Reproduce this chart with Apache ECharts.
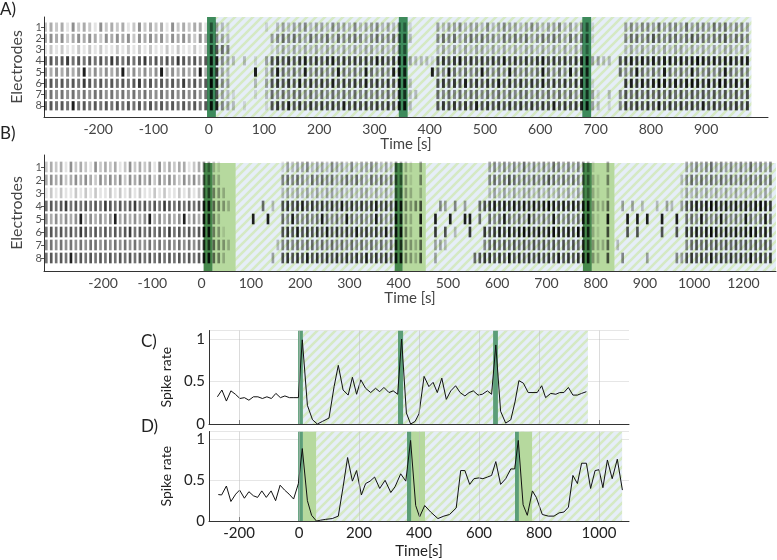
<!DOCTYPE html>
<html><head><meta charset="utf-8">
<script src="https://cdn.jsdelivr.net/npm/echarts@6/dist/echarts.min.js"></script>
<style>html,body{margin:0;padding:0;background:#fff}#c{width:777px;height:560px}</style>
</head><body><div id="c"></div>
<script>
// ---------------- DATA ----------------
const BIN = 10; // seconds per raster bin
const electrodes = [1, 2, 3, 4, 5, 6, 7, 8];

// Panel A raster: one digit per 10 s bin (0 = no spikes, 9 = densest), starting at -300 s
const aStart = -300;
const aRaster = [
  '2323142321'+'4232312423'+'2314232331'+'43'+'210'+'00000'+'1023233423'+'3243324233'+'4232'+'43'+'10000'+'3233423324'+'2343323432'+'334232'+'44'+'10000'+'0343443534'+'4353443545'+'3443',
  '3434234343'+'2434342434'+'3424343243'+'54'+'320'+'00000'+'0345454354'+'4535445434'+'5445'+'55'+'20000'+'4545345454'+'4354545345'+'454354'+'55'+'10000'+'0455456545'+'5456554556'+'4554',
  '1212112121'+'2112121212'+'1121211212'+'66'+'540'+'00000'+'0123232323'+'2332323233'+'2323'+'44'+'00000'+'2323232332'+'3232323323'+'232323'+'33'+'00000'+'0232323232'+'3323232323'+'3232',
  '5656756565'+'6576565675'+'6565765656'+'88'+'432'+'02010'+'3676767867'+'6786767676'+'8767'+'88'+'32221'+'6767867676'+'7686767678'+'676767'+'88'+'33220'+'6787878788'+'7878987878'+'8788',
  '4343434834'+'3434834343'+'4834343483'+'87'+'320'+'00080'+'2585454845'+'5458545485'+'4548'+'87'+'00008'+'5485454585'+'4548545458'+'545485'+'87'+'00000'+'5458545485'+'4548545458'+'5454',
  '5656565765'+'6565656756'+'5656575656'+'98'+'430'+'00020'+'3676768676'+'7686767686'+'7676'+'88'+'20000'+'6767686767'+'6867676768'+'676767'+'87'+'10000'+'0787878987'+'8789878798'+'7878',
  '4545454545'+'5454545454'+'4545454545'+'76'+'321'+'00010'+'2545455454'+'5454545454'+'5454'+'76'+'22000'+'5454545545'+'4545455454'+'545454'+'76'+'31020'+'4656565656'+'5656565656'+'5656',
  '5656585656'+'5656565656'+'5656565656'+'88'+'432'+'01000'+'1676867676'+'7676867676'+'7676'+'88'+'20000'+'6767676867'+'6767676767'+'686767'+'88'+'32010'+'4767676867'+'6767686767'+'6767'
];

// Panel B raster, starting at -320 s
const bStart = -320;
const bRaster = [
  '2323142321'+'4232312423'+'2314232331'+'23'+'43'+'21000'+'000000000'+'1323342332'+'4332423343'+'232'+'43'+'21030'+'000000000000'+'3434343534'+'343543434'+'43'+'10030'+'000000000000003'+'3434534343'+'4353434',
  '3434234343'+'2434342434'+'3424343243'+'43'+'54'+'32000'+'000000000'+'4545435454'+'5345454354'+'545'+'54'+'31040'+'000000000000'+'4545654545'+'456545454'+'54'+'21040'+'000000000000024'+'5454545454'+'5454545',
  '1212112121'+'2112121212'+'1121211212'+'12'+'55'+'43200'+'000000000'+'2323232323'+'3232323323'+'232'+'44'+'32020'+'000000000000'+'2323232332'+'323232323'+'33'+'21020'+'000000000000013'+'2323232323'+'2323232',
  '5656756565'+'6576565675'+'6565765656'+'56'+'88'+'54320'+'000005020'+'6767867676'+'7686767678'+'676'+'88'+'43460'+'004304030056'+'7878787878'+'789878787'+'88'+'32250'+'030302002032036'+'7878987878'+'7878987',
  '4343434834'+'3434834343'+'4834343483'+'43'+'87'+'42000'+'000800800'+'5485454585'+'4548545458'+'545'+'87'+'32080'+'080080088050'+'5458545485'+'454854545'+'87'+'21080'+'008080800800805'+'5485458545'+'4854585',
  '5656565765'+'6565656756'+'5656575656'+'56'+'98'+'43100'+'000000000'+'6768676768'+'6767686767'+'686'+'88'+'42070'+'070602007007'+'6787878987'+'878987879'+'87'+'21060'+'006060000600607'+'7878987878'+'7898787',
  '4545454545'+'5454545454'+'4545454545'+'45'+'76'+'54320'+'000000002'+'4545455454'+'5454545454'+'545'+'76'+'43250'+'033200000004'+'5656565656'+'565656565'+'76'+'32250'+'200000000000004'+'5656565656'+'5656565',
  '5656585656'+'5656565656'+'5656565656'+'56'+'88'+'54200'+'000000030'+'6767686767'+'6767676867'+'676'+'88'+'43260'+'030000000567'+'7676867676'+'767686767'+'88'+'32060'+'040000300000436'+'7676867676'+'7686767'
];

// Stimulation / recovery / hatched periods (seconds)
const aStim = [[-3, 13], [344, 360], [676, 692]];
const aHatch = [13, 982];
const bStim = [[4, 22], [392, 408], [774, 792]];
const bRecover = [[22, 69], [408, 455], [792, 838]];
const bHatch = [22, 1166];
const cStim = [[-3, 13], [330, 347], [647, 663]];
const cHatch = [13, 963];
const dStim = [[-3, 13], [360, 374], [720, 733]];
const dRecover = [[13, 57], [374, 420], [733, 777]];
const dHatch = [13, 1077];

// Tick labels
const aTicks = [-200, -100, 0, 100, 200, 300, 400, 500, 600, 700, 800, 900];
const bTicks = [-200, -100, 0, 100, 200, 300, 400, 500, 600, 700, 800, 900, 1000, 1100];
const bTickText = ['-200', '-100', '0', '100', '200', '300', '400', '500', '600', '700', '800', '900', '1000', '1200'];
const rateTicks = [-200, 0, 200, 400, 600, 800, 1000];
const rateYTicks = [0, 0.5, 1];

// Panel C spike rate
const cTime = [-272,-257,-242,-227,-212,-197,-182,-167,-152,-137,-122,-107,-92,-77,-62,-47,-32,-17,-2,
  11,28,45,61,78,100,117,131,147,164,178,192,206,222,239,255,269,283,300,314,329,
  342,358,372,387,400,417,433,447,461,476,491,506,522,537,553,567,581,597,611,628,642,
  656,672,689,706,720,733,748,764,780,794,809,822,839,856,869,883,898,913,928,942,958];
const cRate = [0.32,0.40,0.27,0.39,0.35,0.30,0.31,0.28,0.32,0.32,0.30,0.32,0.30,0.36,0.31,0.33,0.31,0.31,0.31,
  0.99,0.22,0.05,0.0,0.03,0.07,0.44,0.69,0.40,0.34,0.55,0.35,0.52,0.42,0.37,0.42,0.38,0.43,0.37,0.39,0.35,
  1.0,0.13,0.0,0.03,0.12,0.56,0.44,0.49,0.37,0.54,0.29,0.39,0.45,0.37,0.33,0.37,0.39,0.34,0.35,0.39,0.35,
  0.93,0.15,0.01,0.05,0.26,0.51,0.48,0.37,0.37,0.37,0.45,0.31,0.36,0.35,0.37,0.37,0.43,0.34,0.34,0.36,0.38];

// Panel D spike rate
const dTime = [-269,-258,-242,-227,-211,-198,-182,-167,-152,-138,-124,-109,-93,-78,-63,-48,-33,-18,-2,
  11,28,42,58,72,89,111,131,147,162,178,192,208,222,237,252,269,287,306,320,339,356,
  372,389,402,419,439,463,483,502,524,539,553,569,583,600,613,628,642,656,672,689,706,719,
  731,747,761,778,791,811,831,850,867,883,898,913,928,942,958,972,987,1000,1013,1028,1044,1061,1078];
const dRate = [0.325,0.32,0.43,0.24,0.33,0.38,0.28,0.36,0.31,0.29,0.37,0.29,0.37,0.25,0.44,0.38,0.33,0.27,0.46,
  0.89,0.25,0.07,0.0,0.01,0.02,0.03,0.06,0.42,0.78,0.49,0.62,0.32,0.46,0.49,0.54,0.40,0.50,0.35,0.42,0.58,0.49,
  0.99,0.19,0.05,0.19,0.11,0.03,0.06,0.08,0.16,0.62,0.62,0.45,0.52,0.53,0.52,0.54,0.56,0.73,0.45,0.52,0.64,0.64,
  0.99,0.20,0.07,0.37,0.29,0.08,0.06,0.06,0.10,0.11,0.17,0.56,0.46,0.71,0.71,0.40,0.62,0.63,0.41,0.75,0.52,0.76,0.38];

// ---------------- RENDER ----------------
const FONT = 'Lato, "Open Sans", sans-serif';

function makeHatch() {
  const s = 9;
  const c = document.createElement('canvas');
  c.width = s; c.height = s;
  const g = c.getContext('2d');
  g.fillStyle = '#e6eef8';
  g.fillRect(0, 0, s, s);
  g.strokeStyle = '#d5e9c4';
  g.lineWidth = 2.6;
  g.beginPath();
  for (let k = -1; k <= 1; k++) {
    g.moveTo(-2 + k * s, s + 2); g.lineTo(s + 2 + k * s, -2);
  }
  g.stroke();
  return c;
}
const hatchImg = makeHatch();
const fills = [
  { image: hatchImg, repeat: 'repeat' }, // 0 hatched
  '#b6d99e',                             // 1 light green (recovery)
  '#3d8a5b',                             // 2 dark green A
  '#46884b',                             // 3 dark green B
  '#5c9e78'                              // 4 dark green C/D
];

function bandSeries(idx, items, yr) {
  return {
    type: 'custom', xAxisIndex: idx, yAxisIndex: idx, z: 1, silent: true, animation: false, clip: true,
    data: items,
    encode: { x: [0, 1] },
    renderItem: (p, api) => {
      const cs = p.coordSys;
      const x0 = api.coord([api.value(0), yr ? yr[0] : 0])[0];
      const x1 = api.coord([api.value(1), yr ? yr[0] : 0])[0];
      let y0 = cs.y, y1 = cs.y + cs.height;
      if (yr) { y0 = api.coord([0, yr[0]])[1]; y1 = api.coord([0, yr[1]])[1]; }
      const l = Math.max(x0, cs.x), r = Math.min(x1, cs.x + cs.width);
      const f = api.value(2);
      return { type: 'rect', z2: f === 0 ? 0 : (f === 1 ? 1 : 2),
        shape: { x: l, y: Math.min(y0, y1), width: Math.max(0, r - l), height: Math.abs(y1 - y0) },
        style: { fill: fills[f] } };
    }
  };
}

function rasterData(rows, start) {
  const out = [];
  rows.forEach((s, e) => {
    for (let i = 0; i < s.length; i++) {
      const d = +s[i];
      if (d > 0) out.push([start + i * BIN, electrodes[e], d]);
    }
  });
  return out;
}

function rasterSeries(idx, rows, start) {
  return {
    type: 'custom', xAxisIndex: idx, yAxisIndex: idx, z: 3, silent: true, animation: false, clip: true,
    data: rasterData(rows, start),
    encode: { x: 0, y: 1 },
    renderItem: (p, api) => {
      const t = api.value(0), e = api.value(1), d = api.value(2);
      const c0 = api.coord([t + BIN * 0.2, e]);
      const c1 = api.coord([t + BIN * 0.74, e]);
      const rowH = Math.abs(api.size([0, 1])[1]);
      const h = rowH * 0.82;
      return { type: 'rect',
        shape: { x: c0[0], y: c0[1] - h / 2, width: Math.max(1, c1[0] - c0[0]), height: h },
        style: { fill: 'rgba(0,0,0,' + Math.min(0.95, d * 0.11).toFixed(3) + ')' } };
    }
  };
}

const bandsA = [[aHatch[0], aHatch[1], 0]].concat(aStim.map(s => [s[0], s[1], 2]));
const bandsB = [[bHatch[0], bHatch[1], 0]].concat(bRecover.map(s => [s[0], s[1], 1]), bStim.map(s => [s[0], s[1], 3]));
const bandsC = [[cHatch[0], cHatch[1], 0]].concat(cStim.map(s => [s[0], s[1], 4]));
const bandsD = [[dHatch[0], dHatch[1], 0]].concat(dRecover.map(s => [s[0], s[1], 1]), dStim.map(s => [s[0], s[1], 4]));

const axisLine = { show: true, onZero: false, lineStyle: { color: '#333', width: 1 } };

function rasterX(grid, min, max, ticks, texts) {
  return {
    type: 'value', gridIndex: grid, min: min, max: max,
    axisLine: axisLine, axisTick: { show: false }, splitLine: { show: false },
    axisLabel: { customValues: ticks, fontSize: 14, color: '#444', fontFamily: FONT, margin: 5, hideOverlap: false,
      formatter: v => texts ? texts[ticks.indexOf(v)] : String(v) },
    name: 'Time [s]', nameLocation: 'middle', nameGap: 20,
    nameTextStyle: { fontSize: 15, color: '#444', fontFamily: FONT }
  };
}
function rasterY(grid, min, max) {
  return {
    type: 'value', gridIndex: grid, min: min, max: max, inverse: true,
    axisLine: axisLine, splitLine: { show: false },
    axisTick: { show: true, customValues: electrodes, length: 3, lineStyle: { color: '#555' } },
    axisLabel: { customValues: electrodes, fontSize: 11, lineHeight: 11, color: '#555', fontFamily: FONT, margin: 2,
      hideOverlap: false, showMinLabel: true, showMaxLabel: true, formatter: v => String(v) },
    name: 'Electrodes', nameLocation: 'middle', nameGap: 19,
    nameTextStyle: { fontSize: 16, color: '#444', fontFamily: FONT }
  };
}
function rateX(grid, showLabels) {
  return {
    type: 'value', gridIndex: grid, min: -300, max: 1100,
    axisLine: axisLine, splitLine: { show: false },
    axisTick: { show: true, inside: true, customValues: rateTicks, length: 4, lineStyle: { color: '#333' } },
    axisLabel: { show: showLabels, customValues: rateTicks, fontSize: 15, color: '#222', fontFamily: FONT, margin: 5,
      formatter: v => String(v) },
    name: showLabels ? 'Time[s]' : '', nameLocation: 'middle', nameGap: 23,
    nameTextStyle: { fontSize: 15, color: '#222', fontFamily: FONT }
  };
}
function rateY(grid) {
  return {
    type: 'value', gridIndex: grid, min: 0, max: 1.1, interval: 0.5,
    axisLine: axisLine, axisTick: { show: false },
    splitLine: { show: true, lineStyle: { color: '#e6e6e6', width: 1 } },
    axisLabel: { customValues: rateYTicks, fontSize: 15, color: '#222', fontFamily: FONT, margin: 4,
      formatter: v => String(v) },
    name: 'Spike rate', nameLocation: 'middle', nameGap: 14,
    nameTextStyle: { fontSize: 14, color: '#222', fontFamily: FONT }
  };
}
function rateLine(idx, times, rates) {
  return {
    type: 'line', xAxisIndex: idx, yAxisIndex: idx, z: 4, silent: true, animation: false,
    symbol: 'none', lineStyle: { color: '#111', width: 1 },
    data: times.map((t, i) => [t, rates[i]]),
    markLine: { silent: true, symbol: ['none', 'none'], label: { show: false }, animation: false,
      lineStyle: { color: 'rgba(190,190,190,0.55)', width: 1, type: 'solid' },
      data: rateTicks.map(v => ({ xAxis: v })) }
  };
}

const chart = echarts.init(document.getElementById('c'), null, { renderer: 'canvas' });
chart.setOption({
  animation: false,
  backgroundColor: '#fff',
  textStyle: { fontFamily: FONT },
  grid: [
    { left: 44, top: 17, width: 724, height: 100 },
    { left: 44, top: 155, width: 732, height: 116 },
    { left: 209, top: 330.5, width: 420, height: 93.5 },
    { left: 209, top: 431.5, width: 420, height: 92.5 }
  ],
  xAxis: [
    rasterX(0, -298, 1012, aTicks, null),
    rasterX(1, -320, 1166, bTicks, bTickText),
    rateX(2, false),
    rateX(3, true)
  ],
  yAxis: [
    rasterY(0, 0.1, 9),
    rasterY(1, 0.08, 9),
    rateY(2),
    rateY(3)
  ],
  graphic: [
    { type: 'text', left: 0, top: 1, style: { text: 'A)', fontSize: 17, fill: '#222', fontFamily: FONT } },
    { type: 'text', left: 0, top: 125, style: { text: 'B)', fontSize: 17, fill: '#222', fontFamily: FONT } },
    { type: 'text', left: 141, top: 333, style: { text: 'C)', fontSize: 17, fill: '#222', fontFamily: FONT } },
    { type: 'text', left: 141, top: 418, style: { text: 'D)', fontSize: 17, fill: '#222', fontFamily: FONT } }
  ],
  series: [
    bandSeries(0, bandsA, null),
    rasterSeries(0, aRaster, aStart),
    bandSeries(1, bandsB, [0.7, 9]),
    rasterSeries(1, bRaster, bStart),
    bandSeries(2, bandsC, null),
    rateLine(2, cTime, cRate),
    bandSeries(3, bandsD, null),
    rateLine(3, dTime, dRate)
  ]
});
</script></body></html>
